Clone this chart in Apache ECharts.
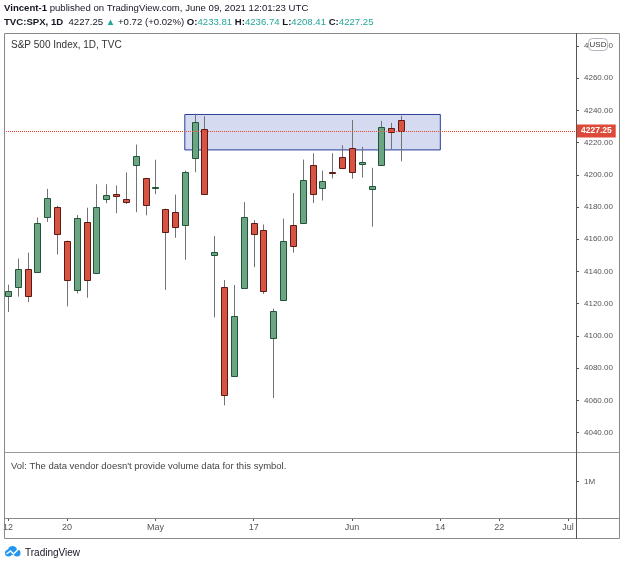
<!DOCTYPE html>
<html>
<head>
<meta charset="utf-8">
<script src="https://cdn.jsdelivr.net/npm/echarts@6/dist/echarts.min.js"></script>
<style>
  html, body { margin: 0; padding: 0; background: #fff; }
  #chart { width: 625px; height: 567px; }
</style>
</head>
<body>
<div id="chart"></div>
<script>
// trading days shown on the time axis (Apr 12 .. Jul 1, 2021)
const dates = [
  '2021-04-12','2021-04-13','2021-04-14','2021-04-15','2021-04-16','2021-04-19','2021-04-20',
  '2021-04-21','2021-04-22','2021-04-23','2021-04-26','2021-04-27','2021-04-28','2021-04-29',
  '2021-04-30','2021-05-03','2021-05-04','2021-05-05','2021-05-06','2021-05-07','2021-05-10',
  '2021-05-11','2021-05-12','2021-05-13','2021-05-14','2021-05-17','2021-05-18','2021-05-19',
  '2021-05-20','2021-05-21','2021-05-24','2021-05-25','2021-05-26','2021-05-27','2021-05-28',
  '2021-06-01','2021-06-02','2021-06-03','2021-06-04','2021-06-07','2021-06-08','2021-06-09',
  '2021-06-10','2021-06-11','2021-06-14','2021-06-15','2021-06-16','2021-06-17','2021-06-18',
  '2021-06-21','2021-06-22','2021-06-23','2021-06-24','2021-06-25','2021-06-28','2021-06-29',
  '2021-06-30','2021-07-01'
]

// S&P 500 daily candles, Apr 12 .. Jun 8
const opens = [4124.7,4130.1,4141.6,4139.8,4174.1,4179.8,4159.2,4128.4,4170.5,4138.8,4185.0,4188.3,4185.1,4206.1,4198.1,
  4192.0,4179.0,4177.1,4169.1,4210.3,4228.3,4150.3,4130.6,4075.0,4129.6,4169.9,4165.9,4098.5,4122.0,4168.6,4170.2,4205.9,4191.6,4201.9,4210.8,
  4216.5,4206.8,4191.4,4206.1,4229.3,4233.8]
const highs = [4131.8,4148.0,4151.7,4173.5,4191.3,4180.8,4159.2,4175.0,4179.6,4194.2,4194.2,4193.4,4201.5,4218.8,4198.1,
  4209.4,4179.0,4187.7,4202.7,4238.0,4236.4,4162.0,4134.7,4131.6,4183.1,4171.9,4169.2,4116.9,4172.8,4188.7,4209.5,4213.4,4202.6,4213.4,4218.4,
  4234.1,4217.4,4204.4,4233.5,4232.3,4236.7]
const lows = [4114.8,4124.4,4120.9,4139.8,4170.8,4150.5,4118.4,4126.4,4123.7,4138.8,4182.4,4176.2,4181.8,4176.8,4174.9,
  4188.0,4128.6,4160.9,4147.3,4201.6,4188.1,4111.5,4056.9,4075.0,4129.6,4142.7,4126.0,4061.4,4122.0,4151.7,4170.2,4182.5,4184.1,4197.8,4203.6,
  4197.6,4198.3,4167.9,4206.1,4215.7,4208.4]
const closes = [4128.0,4141.6,4124.7,4170.4,4185.5,4163.3,4134.9,4173.4,4135.0,4180.2,4187.6,4186.7,4183.2,4211.5,4181.2,
  4192.7,4164.7,4167.6,4201.6,4232.6,4188.4,4152.1,4063.0,4112.5,4173.9,4163.3,4127.8,4115.7,4159.1,4155.9,4197.1,4188.1,4196.0,4200.9,4204.1,
  4202.0,4208.1,4192.9,4229.9,4226.5,4227.3]

// time axis labels
const tickDates = ['2021-04-12','2021-04-20','2021-05-03','2021-05-17','2021-06-01','2021-06-14','2021-06-22','2021-07-01']
const tickText = ['12','20','May','17','Jun','14','22','Jul']

// resistance box and last price
const boxFrom = '2021-05-06'
const boxTo = '2021-06-14'
const boxLow = 4215.5
const boxHigh = 4237.5
const lastPrice = 4227.25

const FONT = 'Liberation Sans'
const RED = '#ee4433'
const candles = opens.map((o, i) => [i, o, closes[i], lows[i], highs[i]])

const chart = echarts.init(document.getElementById('chart'))

const isTick = (idx, val) => tickDates.indexOf(val) >= 0

const option = {
  animation: false,
  backgroundColor: '#fff',
  grid: [
    { left: 3, top: 33, width: 570, height: 419 },
    { left: 3, top: 452, width: 570, height: 66 },
  ],
  xAxis: [
    { type: 'category', gridIndex: 0, data: dates, boundaryGap: true, show: false },
    {
      type: 'category', gridIndex: 1, data: dates, boundaryGap: true,
      axisLine: { show: false },
      axisTick: { show: true, alignWithLabel: true, length: 3, interval: isTick, lineStyle: { color: '#555' } },
      axisLabel: {
        interval: isTick, margin: 5, fontSize: 9, fontFamily: FONT, color: '#555',
        formatter: (val) => tickText[tickDates.indexOf(val)],
      },
      splitLine: { show: false },
    },
  ],
  yAxis: [
    {
      type: 'value', gridIndex: 0, position: 'right', offset: 3,
      min: 4027.9, max: 4288.1, splitNumber: 13, minInterval: 20, maxInterval: 20,
      axisLine: { show: false },
      axisTick: { show: true, length: 3, lineStyle: { color: '#555' } },
      splitLine: { show: false },
      axisLabel: {
        margin: 8, fontSize: 8, fontFamily: FONT, color: '#555',
        formatter: (v) => (Math.abs(v / 20 - Math.round(v / 20)) < 1e-6 ? v.toFixed(2) : ''),
      },
    },
    {
      type: 'value', gridIndex: 1, position: 'right', offset: 3,
      min: 0, max: 1.82, minInterval: 1, maxInterval: 1,
      axisLine: { show: false },
      axisTick: { show: true, length: 3, lineStyle: { color: '#555' } },
      splitLine: { show: false },
      axisLabel: {
        margin: 8, fontSize: 8, fontFamily: FONT, color: '#555',
        formatter: (v) => (v === 1 ? '1M' : ''),
      },
    },
  ],
  series: [
    {
      type: 'custom',
      xAxisIndex: 0, yAxisIndex: 0,
      z: 2,
      data: candles,
      renderItem: (params, api) => {
        const i = api.value(0)
        const o = api.coord([i, api.value(1)])
        const c = api.coord([i, api.value(2)])
        const l = api.coord([i, api.value(3)])
        const h = api.coord([i, api.value(4)])
        const up = api.value(2) >= api.value(1)
        const xc = Math.round(o[0]) + 0.5
        const top = Math.round(Math.min(o[1], c[1])) + 0.5
        const bot = Math.max(Math.round(Math.max(o[1], c[1])) + 0.5, top + 1)
        return {
          type: 'group',
          children: [
            { type: 'line', shape: { x1: xc, y1: h[1], x2: xc, y2: l[1] }, style: { stroke: '#737375', lineWidth: 1 } },
            {
              type: 'rect',
              shape: { x: xc - 3, y: top, width: 6, height: bot - top },
              style: { fill: up ? '#6ba583' : '#d75442', stroke: up ? '#225437' : '#5b1a13', lineWidth: 1 },
            },
          ],
        }
      },
    },
    {
      // dotted last price line across the price pane
      type: 'custom',
      xAxisIndex: 0, yAxisIndex: 0,
      z: 4,
      silent: true,
      data: [[0, lastPrice]],
      renderItem: (params, api) => {
        const p = api.coord([0, api.value(1)])
        const cs = params.coordSys
        const y = Math.round(p[1]) + 0.5
        return {
          type: 'line',
          shape: { x1: cs.x + 1, y1: y, x2: cs.x + cs.width + 3, y2: y },
          style: { stroke: RED, lineWidth: 1, lineDash: [1, 1] },
        }
      },
    },
    {
      type: 'line',
      xAxisIndex: 0, yAxisIndex: 0,
      z: 5,
      color: RED,
      data: [],
      markArea: {
        silent: true,
        itemStyle: { color: 'rgba(41,72,179,0.2)', borderColor: '#2b3c9c', borderWidth: 1 },
        label: { show: false },
        data: [[{ xAxis: boxFrom, yAxis: boxHigh }, { xAxis: boxTo, yAxis: boxLow }]],
      },
      markLine: {
        silent: true,
        symbol: 'none',
        lineStyle: { color: 'rgba(0,0,0,0)', width: 1 },
        label: {
          show: true, position: 'end', distance: 4,
          formatter: lastPrice.toFixed(2),
          backgroundColor: '#dd4a3a', color: '#fff', fontWeight: 'bold',
          fontSize: 8.5, fontFamily: FONT, padding: [2, 4, 2, 4],
        },
        data: [{ yAxis: lastPrice }],
      },
    },
  ],
  graphic: [
    {
      type: 'text', left: 4, top: 3,
      style: {
        text: '{b|Vincent-1}{n| published on TradingView.com, June 09, 2021 12:01:23 UTC}',
        rich: {
          b: { fontFamily: FONT, fontSize: 9.6, fontWeight: 'bold', fill: '#131722' },
          n: { fontFamily: FONT, fontSize: 9.6, fill: '#131722' },
        },
      },
    },
    {
      type: 'text', left: 4, top: 17,
      style: {
        text: '{b|TVC:SPX, 1D}{n|  4227.25 }{t|▲}{n| +0.72 (+0.02%) }{b|O:}{t|4233.81}{b| H:}{t|4236.74}{b| L:}{t|4208.41}{b| C:}{t|4227.25}',
        rich: {
          b: { fontFamily: FONT, fontSize: 9.6, fontWeight: 'bold', fill: '#131722' },
          n: { fontFamily: FONT, fontSize: 9.6, fill: '#131722' },
          t: { fontFamily: FONT, fontSize: 9.6, fill: '#26a69a' },
        },
      },
    },
    {
      type: 'text', left: 11, top: 40,
      style: { text: 'S&P 500 Index, 1D, TVC', fontFamily: FONT, fontSize: 10, fill: '#333' },
    },
    {
      type: 'text', left: 11, top: 461,
      style: { text: "Vol: The data vendor doesn't provide volume data for this symbol.", fontFamily: FONT, fontSize: 9.5, fill: '#444' },
    },
    // pane frame
    { type: 'rect', shape: { x: 4.5, y: 33.5, width: 615, height: 505 }, style: { fill: null, stroke: '#8a8a8a', lineWidth: 1 }, z: 10 },
    { type: 'line', shape: { x1: 4, y1: 452.5, x2: 620, y2: 452.5 }, style: { stroke: '#9a9a9a', lineWidth: 1 }, z: 10 },
    { type: 'line', shape: { x1: 4, y1: 518.5, x2: 620, y2: 518.5 }, style: { stroke: '#8a8a8a', lineWidth: 1 }, z: 10 },
    { type: 'line', shape: { x1: 576.5, y1: 33, x2: 576.5, y2: 539 }, style: { stroke: '#555', lineWidth: 1 }, z: 10 },
    // currency badge
    { type: 'rect', z: 50, shape: { x: 588.5, y: 38.5, width: 19, height: 12, r: 4 }, style: { fill: '#fff', stroke: '#b2b5be', lineWidth: 1 } },
    { type: 'text', z: 51, x: 598, y: 44.5, style: { text: 'USD', fontFamily: FONT, fontSize: 8, fill: '#333', align: 'center', verticalAlign: 'middle' } },
    // footer logo
    {
      type: 'group', left: 4, top: 546, z: 20,
      children: [
        { type: 'circle', shape: { cx: 8, cy: 4.5, r: 4.5 }, style: { fill: '#2196f3' } },
        { type: 'circle', shape: { cx: 4, cy: 7, r: 3.5 }, style: { fill: '#2196f3' } },
        { type: 'circle', shape: { cx: 12.5, cy: 7, r: 3.5 }, style: { fill: '#2196f3' } },
        { type: 'polyline', shape: { points: [[2, 8], [6, 5], [9, 8], [14, 3]] }, style: { stroke: '#fff', lineWidth: 1.5, fill: null } },
      ],
    },
    {
      type: 'text', left: 25, top: 548,
      style: { text: 'TradingView', fontFamily: FONT, fontSize: 10, fill: '#131722' },
    },
  ],
}

chart.setOption(option)
</script>
</body>
</html>
